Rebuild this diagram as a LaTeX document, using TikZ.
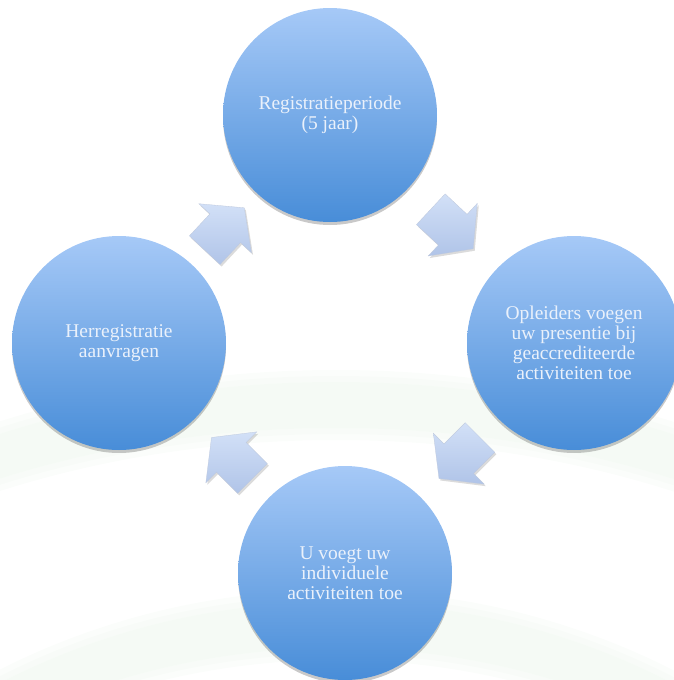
\documentclass[tikz,border=0pt]{standalone}
\usepackage{fontspec}
\setmainfont{Liberation Serif}
\usetikzlibrary{shadows,calc}
\definecolor{cTop}{RGB}{166,201,247}
\definecolor{cBot}{RGB}{72,141,216}
\definecolor{cText}{RGB}{234,241,251}
\definecolor{aTop}{RGB}{210,224,247}
\definecolor{aBot}{RGB}{176,196,232}
\definecolor{aEdge}{RGB}{190,200,220}
\definecolor{bgband}{RGB}{236,246,236}
\newcommand\cyclearrow[3]{%
  \path[blockarrow, shift={($(#1)!0.5!(#2)$)}, rotate=#3]
    (-29,-21) -- (1,-21) -- (1,-36) -- (29,0) -- (1,36) -- (1,21) -- (-29,21) -- cycle;}
\newcommand\softband[4]{% cx cy rx ry-outer ry-inner handled by loop
  \foreach \d in {0,6,12}{%
    \fill[bgband, opacity=.22, even odd rule]
      (#1,#2) ellipse [x radius=#3+20-\d, y radius=#4-\d]
      (#1,#2) ellipse [x radius=#3-20+\d, y radius=#4-70+\d];}}
\begin{document}
\begin{tikzpicture}[x=1pt,y=-1pt,
  stage/.style={circle, minimum size=214pt, inner sep=0pt,
    top color=cTop, bottom color=cBot, text=cText, align=center,
    font=\fontsize{19.5}{20}\selectfont,
    drop shadow={shadow xshift=0pt, shadow yshift=-3pt, opacity=.3, fill=black!70}},
  blockarrow/.style={top color=aTop, bottom color=aBot, draw=aEdge, line width=.3pt,
    drop shadow={shadow xshift=1.5pt, shadow yshift=-2pt, opacity=.2, fill=black!70}}]
\useasboundingbox (0,0) rectangle (673,680);
% faint background bands
\softband{336}{1100}{890}{730}
\softband{336}{1300}{710}{710}
% stages
\node[stage] (t) at (330,115) {Registratieperiode\\(5 jaar)};
\node[stage] (r) at (574,343) {Opleiders voegen\\uw presentie bij\\geaccrediteerde\\activiteiten toe};
\node[stage] (b) at (345,573) {U voegt uw\\individuele\\activiteiten toe};
\node[stage] (l) at (119,343) {Herregistratie\\aanvragen};
% block arrows
\cyclearrow{l}{t}{47}
\cyclearrow{t}{r}{-43}
\cyclearrow{r}{b}{-135}
\cyclearrow{b}{l}{135}
\end{tikzpicture}
\end{document}
